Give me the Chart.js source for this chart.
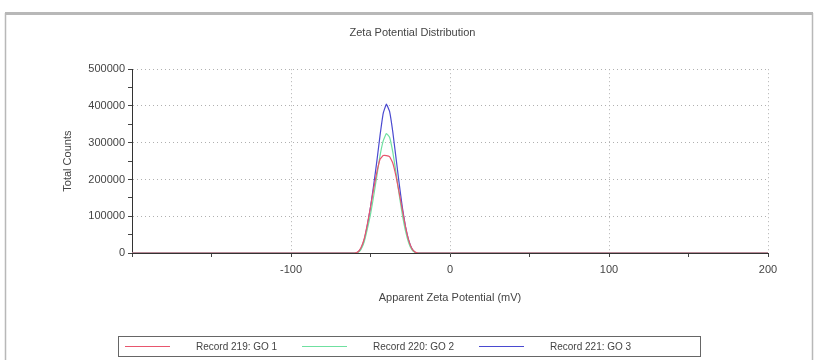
<!DOCTYPE html>
<html>
<head>
<meta charset="utf-8">
<script src="https://cdn.jsdelivr.net/npm/chart.js@4/dist/chart.umd.min.js"></script>
<style>
  html, body { margin: 0; padding: 0; background: #fff; }
  #wrap { position: relative; width: 818px; height: 360px; }
</style>
</head>
<body>
<div id="wrap"><canvas id="zeta-chart" width="818" height="360"></canvas></div>
<script>
// zeta potential (mV) sample points
const potentials = [-200, -60, -58, -56, -54, -52, -50, -48, -46, -44, -42, -40,
  -38, -36, -34, -32, -30, -28, -26, -24, -22, -20, 200];

const go1Counts = [0, 0, 2500, 14000, 38000, 78000, 125000, 175000, 220000, 255000, 265000, 265000,
  262000, 245000, 210000, 165000, 118000, 72000, 35000, 12000, 2500, 0, 0];
const go2Counts = [0, 0, 1500, 10000, 30000, 65000, 105000, 155000, 210000, 265000, 305000, 325000,
  315000, 275000, 220000, 160000, 105000, 60000, 28000, 9000, 1500, 0, 0];
const go3Counts = [0, 0, 2000, 12000, 35000, 75000, 125000, 185000, 250000, 320000, 380000, 405000,
  385000, 330000, 260000, 190000, 125000, 72000, 35000, 12000, 2000, 0, 0];

const seriesLabels = ['Record 219: GO 1', 'Record 220: GO 2', 'Record 221: GO 3'];
const seriesColors = ['#e8566e', '#6fe0a0', '#4a4ad0'];

const toPoints = (vals) => potentials.map((p, i) => ({ x: p, y: vals[i] }));

const FONT = 'Liberation Sans, Arial, sans-serif';

// frame around the whole chart + boxed legend at the bottom
const framePlugin = {
  id: 'frame',
  beforeDraw(chart) {
    const ctx = chart.ctx;
    ctx.save();
    ctx.fillStyle = '#fff';
    ctx.fillRect(0, 0, chart.width, chart.height);
    ctx.strokeStyle = '#b8b8b8';
    ctx.lineWidth = 3;
    ctx.beginPath();
    ctx.moveTo(5, 13.5);
    ctx.lineTo(813, 13.5);
    ctx.stroke();
    ctx.lineWidth = 1.5;
    ctx.beginPath();
    ctx.moveTo(5.5, 13);
    ctx.lineTo(5.5, 360);
    ctx.moveTo(812.5, 13);
    ctx.lineTo(812.5, 360);
    ctx.stroke();
    ctx.restore();
  },
  afterDraw(chart) {
    const ctx = chart.ctx;
    ctx.save();
    ctx.strokeStyle = '#666';
    ctx.lineWidth = 1;
    ctx.strokeRect(118.5, 336.5, 582, 20);
    ctx.font = '10px ' + FONT;
    ctx.textBaseline = 'middle';
    ctx.fillStyle = '#444';
    const starts = [125, 302, 479];
    chart.data.datasets.forEach((ds, i) => {
      ctx.strokeStyle = ds.borderColor;
      ctx.beginPath();
      ctx.moveTo(starts[i], 346.5);
      ctx.lineTo(starts[i] + 45, 346.5);
      ctx.stroke();
      ctx.fillText(ds.label, starts[i] + 71, 347);
    });
    ctx.restore();
  }
};

new Chart(document.getElementById('zeta-chart').getContext('2d'), {
  type: 'line',
  data: {
    datasets: [go1Counts, go2Counts, go3Counts].map((vals, i) => ({
      label: seriesLabels[i],
      data: toPoints(vals),
      borderColor: seriesColors[i],
      borderWidth: 1.2,
      pointRadius: 0,
      tension: 0.1,
      fill: false
    }))
  },
  options: {
    responsive: false,
    animation: false,
    layout: { padding: { left: 57, right: 50, top: 12, bottom: 47 } },
    plugins: {
      legend: { display: false },
      tooltip: { enabled: false },
      title: {
        display: true,
        text: 'Zeta Potential Distribution',
        color: '#444',
        font: { family: FONT, size: 11, weight: 'normal' },
        padding: { top: 14, bottom: 30 }
      }
    },
    scales: {
      x: {
        type: 'linear',
        min: -200,
        max: 200,
        afterFit: (s) => { s.height = 60; },
        ticks: {
          stepSize: 50,
          autoSkip: false,
          maxRotation: 0,
          padding: 6,
          color: '#444',
          font: { family: FONT, size: 11 },
          callback: (v) => (v % 100 === 0 && v !== -200 ? v : '')
        },
        grid: {
          color: (c) => (c.tick && c.tick.value % 100 === 0 && c.tick.value !== -200 ? '#b0b0b0' : 'rgba(0,0,0,0)'),
          tickColor: '#444',
          tickLength: 4
        },
        border: { color: '#333', width: 1, dash: [1, 3] },
        title: {
          display: true,
          text: 'Apparent Zeta Potential (mV)',
          color: '#444',
          font: { family: FONT, size: 11 },
          padding: { top: 0, bottom: 8 }
        }
      },
      y: {
        min: 0,
        max: 500000,
        afterFit: (s) => { s.width = 75; },
        ticks: {
          stepSize: 50000,
          autoSkip: false,
          padding: 3,
          color: '#444',
          font: { family: FONT, size: 11 },
          callback: (v) => (v % 100000 === 0 ? v : '')
        },
        grid: {
          color: (c) => (c.tick && c.tick.value % 100000 === 0 && c.tick.value !== 0 ? '#b0b0b0' : 'rgba(0,0,0,0)'),
          tickColor: '#444',
          tickLength: 4
        },
        border: { color: '#333', width: 1, dash: [1, 3] },
        title: {
          display: true,
          text: 'Total Counts',
          color: '#444',
          font: { family: FONT, size: 11 },
          padding: { top: 4, bottom: 0 }
        }
      }
    }
  },
  plugins: [framePlugin]
});
</script>
</body>
</html>
